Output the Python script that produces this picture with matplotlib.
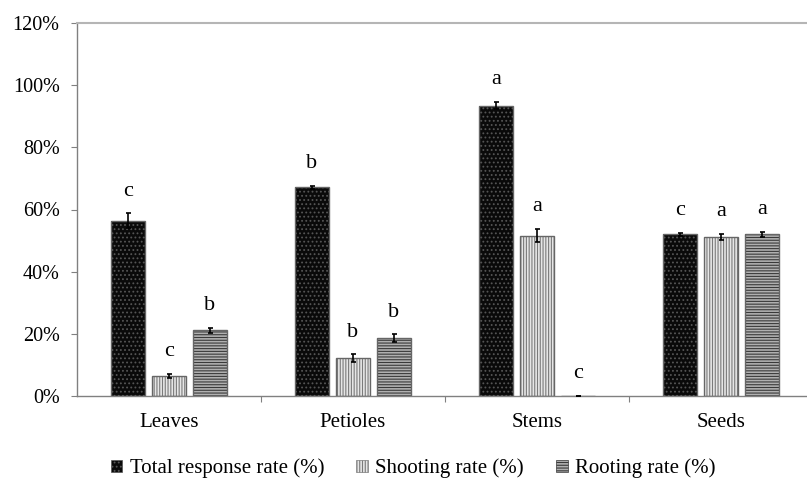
import matplotlib
matplotlib.use("Agg")
import matplotlib.pyplot as plt
import numpy as np
from matplotlib.ticker import FuncFormatter
from matplotlib.patches import Patch

categories = ["Leaves", "Petioles", "Stems", "Seeds"]
series_names = ["Total response rate (%)", "Shooting rate (%)", "Rooting rate (%)"]
total = [0.564, 0.671, 0.934, 0.520]
shooting = [0.065, 0.122, 0.516, 0.512]
rooting = [0.212, 0.186, 0.0, 0.520]
total_err = [0.024, 0.004, 0.012, 0.006]
shooting_err = [0.006, 0.012, 0.022, 0.009]
rooting_err = [0.008, 0.012, 0.0, 0.008]
total_letters = ["c", "b", "a", "c"]
shooting_letters = ["c", "b", "a", "a"]
rooting_letters = ["b", "b", "c", "a"]

plt.rcParams['font.family'] = ['Liberation Serif', 'DejaVu Serif']
plt.rcParams['hatch.linewidth'] = 0.8

fig = plt.figure(figsize=(8.07, 4.79), dpi=100)
ax = fig.add_axes([77/807, 83/479, 736/807, 373/479])

x = np.arange(len(categories))
offset = 0.223
width = 0.18

styles = [
    dict(facecolor="#0a0a0a", edgecolor="#555555", hatch="...."),
    dict(facecolor="#e6e6e6", edgecolor="#7a7a7a", hatch="||||||"),
    dict(facecolor="#b0b0b0", edgecolor="#3a3a3a", hatch="------"),
]
data = [total, shooting, rooting]
errs = [total_err, shooting_err, rooting_err]
letters = [total_letters, shooting_letters, rooting_letters]

for i, (vals, err, st, lets) in enumerate(zip(data, errs, styles, letters)):
    xs = x + (i - 1) * offset
    ax.bar(xs, vals, width, facecolor=st["facecolor"], edgecolor=st["edgecolor"],
           hatch=st["hatch"], linewidth=0, zorder=2)
    ax.bar(xs, vals, width, facecolor="none", edgecolor="#666666", linewidth=1.0, zorder=3)
    ax.errorbar(xs, vals, yerr=err, fmt="none", ecolor="black", elinewidth=1.2,
                capsize=1.8, capthick=1.2, zorder=4)
    for xi, v, e, l in zip(xs, vals, err, lets):
        ax.annotate(l, (xi, v + e), xytext=(0, 16), textcoords="offset points",
                    ha="center", va="center", fontsize=16)

ax.set_xlim(-0.5, 3.5)
ax.set_ylim(0, 1.2)
ax.set_yticks(np.arange(0, 1.21, 0.2))
ax.yaxis.set_major_formatter(FuncFormatter(lambda v, p: f"{v*100:.0f}%"))
ax.tick_params(axis="y", direction="out", length=4.5, width=0.8, color="#808080",
               labelsize=14.5, pad=8)

ax.set_xticks([0.5, 1.5, 2.5])
ax.set_xticklabels([])
ax.set_xticks(x, minor=True)
ax.set_xticklabels(categories, minor=True)
ax.tick_params(axis="x", which="major", direction="out", length=4, width=0.8, color="#808080")
ax.tick_params(axis="x", which="minor", length=0, labelsize=15, pad=12)

for s in ["left", "bottom"]:
    ax.spines[s].set_color("#808080")
    ax.spines[s].set_linewidth(1.0)
ax.spines["right"].set_visible(False)
ax.spines["top"].set_color("#b5b5b5")
ax.spines["top"].set_linewidth(1.5)

handles = [Patch(facecolor=st["facecolor"], edgecolor=st["edgecolor"], hatch=st["hatch"],
                 linewidth=0.5) for st in styles]
fig.legend(handles, series_names, loc="center", bbox_to_anchor=(0.512, 0.022), ncol=3,
           frameon=False, fontsize=15, handlelength=0.55, handleheight=0.55,
           handletextpad=0.35, columnspacing=1.55)

fig.savefig("out.png", dpi=100)
